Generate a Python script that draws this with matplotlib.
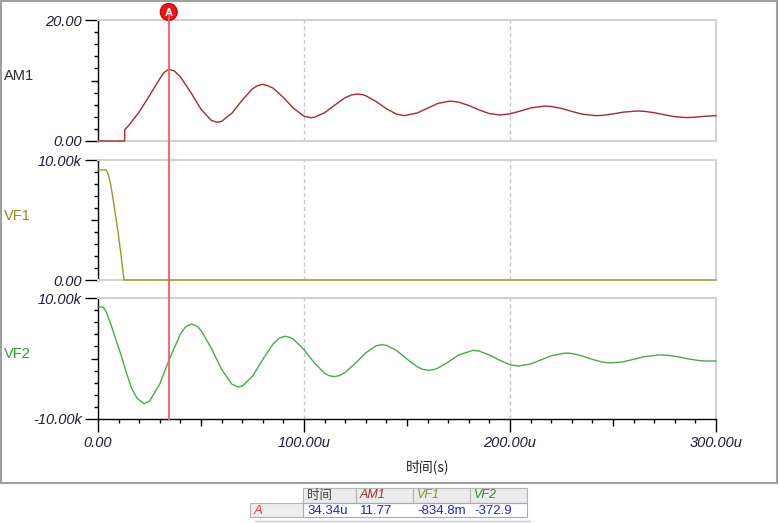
import matplotlib.pyplot as plt
from matplotlib.patches import Rectangle, Circle
from matplotlib.ticker import MultipleLocator, FixedLocator

plt.rcParams['font.family'] = ['Liberation Sans', 'Noto Sans CJK SC', 'DejaVu Sans']

# tiempo en microsegundos
t_am1 = [0, 12.9, 13, 15, 20, 25, 30, 32, 34.3, 37,
         40, 45, 50, 55, 57.8, 60, 65, 70, 75, 77.4,
         79.9, 82.4, 85, 90, 95, 100, 103.2, 105, 110, 115,
         120, 123, 125.8, 128.5, 130, 135, 140, 145, 148.8, 155,
         160, 165, 170.8, 175, 180, 185, 190, 195, 200, 205,
         210, 216.7, 220, 225, 230, 235, 241.5, 245, 250, 255,
         261.8, 265, 270, 275, 280, 286, 290, 295, 300]
am1 = [0, 0, 1.9, 2.6, 4.8, 7.5, 10.3, 11.3, 11.85, 11.6,
       10.6, 8.06, 5.25, 3.4, 3.1, 3.25, 4.6, 6.74, 8.64, 9.13,
       9.37, 9.13, 8.74, 7.19, 5.38, 4.11, 3.86, 3.92, 4.67, 5.95,
       7.16, 7.6, 7.77, 7.65, 7.48, 6.53, 5.33, 4.43, 4.19, 4.63,
       5.43, 6.21, 6.6, 6.43, 5.87, 5.14, 4.53, 4.3, 4.49, 4.95,
       5.46, 5.78, 5.71, 5.38, 4.89, 4.44, 4.19, 4.24, 4.48, 4.77,
       4.96, 4.91, 4.68, 4.33, 4.02, 3.86, 3.95, 4.1, 4.19]

# VF1 en kV
t_vf1 = [0, 3.9, 5, 6, 7.4, 8.5, 9.8, 11, 12, 12.6, 300]
vf1 = [9.17, 9.17, 8.8, 8.1, 6.67, 5.4, 3.92, 2.3, 0.9, 0, 0]

# VF2 en kV
t_vf2 = [0, 2.6, 4, 6.6, 9, 11.4, 14, 16.3, 19, 22.4,
         25, 30, 34.34, 40, 42.5, 45.3, 48, 50, 55, 60,
         65, 68.1, 70, 75, 80, 85, 88, 90.7, 93, 95,
         100, 105, 110, 112, 114.5, 117, 120, 125, 130, 135,
         137.8, 140, 145, 150, 155, 157.5, 160.4, 163, 165, 170,
         175, 182, 185, 190, 195, 200, 204, 210, 215, 220,
         227, 230, 235, 240, 245, 249, 255, 260, 265, 272.5,
         277, 282, 287, 292, 296, 300]
vf2 = [8.51, 8.51, 7.7, 5.3, 2.8, 0.36, -2.6, -4.9, -6.6, -7.47,
       -7.05, -4.2, -0.37, 4.04, 5.23, 5.7, 5.35, 4.65, 1.7, -1.8,
       -4.24, -4.71, -4.57, -2.94, -0.16, 2.41, 3.37, 3.66, 3.51, 3.14,
       1.45, -0.71, -2.43, -2.81, -3.0, -2.85, -2.31, -0.76, 0.95, 2.1,
       2.28, 2.18, 1.31, -0.1, -1.38, -1.78, -1.95, -1.83, -1.59, -0.59,
       0.56, 1.35, 1.23, 0.59, -0.31, -1.03, -1.24, -0.9, -0.24, 0.45,
       0.9, 0.83, 0.42, -0.15, -0.61, -0.74, -0.54, -0.14, 0.29, 0.6,
       0.52, 0.25, -0.1, -0.35, -0.43, -0.4]

x_ticks = [0, 50, 100, 150, 200, 250, 300]
x_labels = ['0.00', '', '100.00u', '', '200.00u', '', '300.00u']
grid_t = [100, 200]

# cursor A
cursor_t = 34.34
tabla_cab = ['时间', 'AM1', 'VF1', 'VF2']
tabla_val = ['34.34u', '11.77', '-834.8m', '-372.9']
tabla_col = ['#404040', '#a03030', '#909020', '#28902a']

W, H = 780, 523
fig = plt.figure(figsize=(W / 100, H / 100), dpi=100)
fig.patch.set_facecolor('white')


def rect_px(left, top, right, bottom):
    # Convierte una caja en pixeles a coordenadas de figura
    return [left / W, 1 - bottom / H, (right - left) / W, (bottom - top) / H]


def panel(top, bottom, t, v, color, ylo, yhi, minor, ylabels, name, name_col):
    # Crea un panel con su traza y ejes estilo osciloscopio
    ax = fig.add_axes(rect_px(98, top, 716, bottom))
    ax.plot(t, v, color=color, lw=1.0, clip_on=False, zorder=3)
    ax.set_xlim(0, 300)
    ax.set_ylim(ylo, yhi)
    for s in ['top', 'right', 'bottom']:
        ax.spines[s].set_color('#d2d2d2')
        ax.spines[s].set_linewidth(1.5)
    ax.spines['left'].set_color('black')
    ax.spines['left'].set_linewidth(1.0)
    for g in grid_t:
        ax.axvline(g, color='#c8c8c8', lw=1.0, ls=(0, (3, 2)), zorder=0)
    ax.yaxis.set_major_locator(FixedLocator([ylo, (ylo + yhi) / 2, yhi]))
    ax.set_yticklabels([ylabels[0], '', ylabels[1]], fontstyle='italic')
    ax.yaxis.set_minor_locator(MultipleLocator(minor))
    ax.tick_params(axis='y', which='major', length=9.5, width=1.0,
                   direction='out', labelsize=10.5, pad=2, labelcolor='#1c1c38')
    ax.tick_params(axis='y', which='minor', length=2.6, width=1.0, direction='out')
    ax.yaxis.get_major_ticks()[1].tick1line.set_markersize(5)
    ax.tick_params(axis='x', which='both', bottom=False, labelbottom=False)
    fig.text(4 / W, 1 - ((top + bottom) / 2 - 4) / H, name, color=name_col,
             fontsize=10.5, va='center', ha='left')
    return ax


ax1 = panel(20, 141, t_am1, am1, '#a52a30', 0, 20, 2, ['0.00', '20.00'], 'AM1', '#2a2a2a')
ax2 = panel(160, 280, t_vf1, vf1, '#9a9a24', 0, 10, 1, ['0.00', '10.00k'], 'VF1', '#8f8f1c')
ax3 = panel(298, 419, t_vf2, vf2, '#46ad46', -10, 10, 2, ['-10.00k', '10.00k'], 'VF2', '#2c9a2c')

# eje x del ultimo panel
ax3.spines['bottom'].set_color('black')
ax3.spines['bottom'].set_linewidth(1.0)
ax3.set_xticks(x_ticks)
ax3.set_xticklabels(x_labels, fontstyle='italic')
ax3.xaxis.set_minor_locator(MultipleLocator(10))
ax3.tick_params(axis='x', which='major', bottom=True, labelbottom=True, length=9.5,
                width=1.0, direction='out', labelsize=10.5, pad=3, labelcolor='#1c1c38')
ax3.tick_params(axis='x', which='minor', bottom=True, length=2.6, width=1.0, direction='out')
for i in [1, 3, 5]:
    ax3.xaxis.get_major_ticks()[i].tick1line.set_markersize(5)
fig.text(428 / W, 1 - 467 / H, '时间(s)', fontsize=10, ha='center', va='center',
         color='#222222', family=['Noto Sans CJK SC', 'DejaVu Sans'])

# capa superior en pixeles para marco, cursor y tabla
ov = fig.add_axes([0, 0, 1, 1], zorder=5)
ov.set_xlim(0, W)
ov.set_ylim(H, 0)
ov.axis('off')
ov.patch.set_alpha(0)

ov.add_patch(Rectangle((1, 1), 776, 482, fill=False, ec='#a0a0a0', lw=1.5))

cx = ax3.transData.transform((cursor_t, 0))[0] * W / fig.bbox.width
ov.plot([cx, cx], [10, 419], color='#ff5c5c', lw=1.3)
ov.add_patch(Circle((cx, 12), 8.5, fc='#e81818', ec='#c00000', lw=0.8))
ov.text(cx, 12.5, 'A', color='white', fontsize=8, fontweight='bold', ha='center', va='center')

# tabla del cursor
col_x = [250, 303, 356, 413, 470, 527]
fila_cab = (488, 503)
fila_val = (503, 517)
for i in range(4):
    x0, x1 = col_x[i + 1], col_x[i + 2]
    ov.add_patch(Rectangle((x0, fila_cab[0]), x1 - x0, fila_cab[1] - fila_cab[0],
                           fc='#ebebeb', ec='#b4b4b4', lw=0.8))
    ov.text(x0 + 4, (fila_cab[0] + fila_cab[1]) / 2, tabla_cab[i], color=tabla_col[i],
            fontsize=9, fontstyle='italic', va='center', ha='left')
    ov.text(x0 + 4, (fila_val[0] + fila_val[1]) / 2 + 0.5, tabla_val[i], color='#2323d0',
            fontsize=9.5, va='center', ha='left')
ov.add_patch(Rectangle((col_x[0], fila_val[0]), col_x[1] - col_x[0], fila_val[1] - fila_val[0],
                       fc='#ededed', ec='#b4b4b4', lw=0.8))
ov.text(col_x[0] + 4, (fila_val[0] + fila_val[1]) / 2 + 0.5, 'A', color='#ff3c3c',
        fontsize=9.5, fontstyle='italic', va='center', ha='left')
ov.add_patch(Rectangle((col_x[1], fila_val[0]), col_x[-1] - col_x[1], fila_val[1] - fila_val[0],
                       fill=False, ec='#8fa8ff', lw=0.8))
ov.plot([255, 530], [521, 521], color='#c8c8c8', lw=1.0)

fig.savefig('out.png', dpi=100)
